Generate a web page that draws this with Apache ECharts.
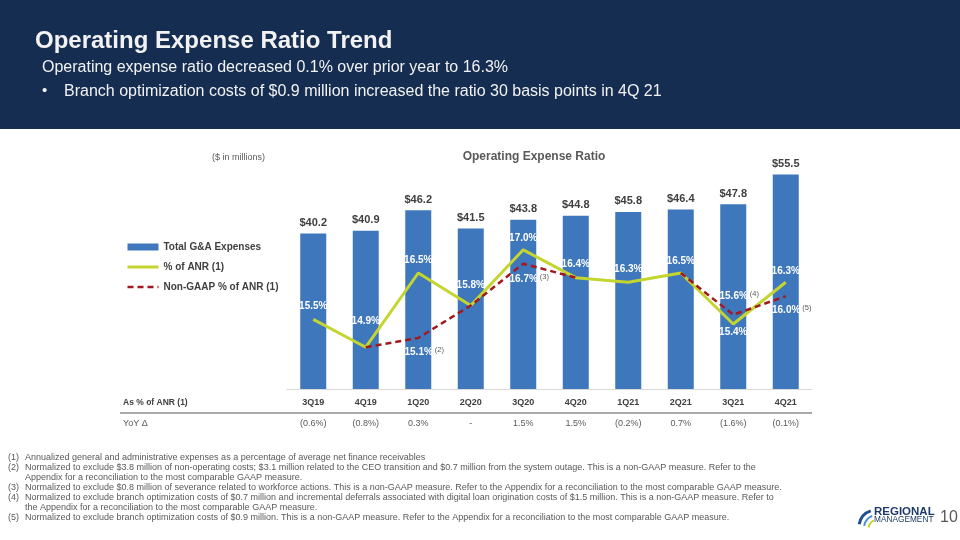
<!DOCTYPE html>
<html><head><meta charset="utf-8">
<script src="https://cdn.jsdelivr.net/npm/echarts@6/dist/echarts.min.js"></script>
<style>html,body{margin:0;padding:0;background:#fff}#c{width:960px;height:540px}</style>
</head><body><div id="c"></div>
<script>
// ---- data ----
const categories = ['3Q19','4Q19','1Q20','2Q20','3Q20','4Q20','1Q21','2Q21','3Q21','4Q21'];
const gaExpenses = [40.2, 40.9, 46.2, 41.5, 43.8, 44.8, 45.8, 46.4, 47.8, 55.5];
const pctOfANR = [15.5, 14.9, 16.5, 15.8, 17.0, 16.4, 16.3, 16.5, 15.4, 16.3];
const nonGaapPct = [null, 14.9, 15.1, 15.8, 16.7, 16.4, null, 16.5, 15.6, 16.0];
const nonGaapNotes = ['', '', '(2)', '', '(3)', '', '', '', '(4)', '(5)'];
const yoyChange = ['(0.6%)','(0.8%)','0.3%','-','1.5%','1.5%','(0.2%)','0.7%','(1.6%)','(0.1%)'];
const seriesNames = ['Total G&A Expenses', '% of ANR (1)', 'Non-GAAP % of ANR (1)'];
const footnotes = [
  ['(1)', 'Annualized general and administrative expenses as a percentage of average net finance receivables'],
  ['(2)', 'Normalized to exclude $3.8 million of non-operating costs; $3.1 million related to the CEO transition and $0.7 million from the system outage. This is a non-GAAP measure. Refer to the'],
  ['', 'Appendix for a reconciliation to the most comparable GAAP measure.'],
  ['(3)', 'Normalized to exclude $0.8 million of severance related to workforce actions. This is a non-GAAP measure. Refer to the Appendix for a reconciliation to the most comparable GAAP measure.'],
  ['(4)', 'Normalized to exclude branch optimization costs of $0.7 million and incremental deferrals associated with digital loan origination costs of $1.5 million. This is a non-GAAP measure. Refer to'],
  ['', 'the Appendix for a reconciliation to the most comparable GAAP measure.'],
  ['(5)', 'Normalized to exclude branch optimization costs of $0.9 million. This is a non-GAAP measure. Refer to the Appendix for a reconciliation to the most comparable GAAP measure.']
];

// ---- styles ----
const FONT = '"Liberation Sans", Arial, sans-serif';
const BAR_COLOR = '#3e77bc';
const LINE_COLOR = '#c4d530';
const DASH_COLOR = '#a3191e';
const gaapLabelPos = ['top','top','top','top','top','top','top','top','bottom','top'];
const gaapLabelDist = [8, 21, 8, 15, 7, 8, 8, 7, 3, 6];
const ngLabelPos = ['top','top','bottom','top','bottom','top','top','top','top','bottom'];
const ngLabelDist = [0, 0, 8, 0, 9, 0, 0, 0, 12, 8];

const valRich = {
  v: {color: '#ffffff', fontSize: 10, fontWeight: 'bold', fontFamily: FONT},
  s: {color: '#595959', fontSize: 7.5, fontFamily: FONT, padding: [0, 0, 5, 2]}
};

const gaapData = pctOfANR.map((v, i) => ({
  value: v,
  label: {position: gaapLabelPos[i], distance: gaapLabelDist[i]}
}));
const ngData = nonGaapPct.map((v, i) => {
  const show = !!nonGaapNotes[i];
  return {
    value: v,
    label: {show: show, position: ngLabelPos[i], distance: ngLabelDist[i], offset: [6, 0]}
  };
});

const graphics = [
  {type: 'rect', shape: {x: 0, y: 0, width: 960, height: 129}, style: {fill: '#162d52'}, silent: true},
  {type: 'text', x: 35, y: 41, style: {text: 'Operating Expense Ratio Trend', fill: '#f2f2f2', fontSize: 24, fontWeight: 'bold', fontFamily: FONT, verticalAlign: 'middle'}},
  {type: 'text', x: 42, y: 68, style: {text: 'Operating expense ratio decreased 0.1% over prior year to 16.3%', fill: '#f2f2f2', fontSize: 16, fontFamily: FONT, verticalAlign: 'middle'}},
  {type: 'text', x: 42, y: 91, style: {text: '•', fill: '#f2f2f2', fontSize: 15, fontFamily: FONT, verticalAlign: 'middle'}},
  {type: 'text', x: 64, y: 92, style: {text: 'Branch optimization costs of $0.9 million increased the ratio 30 basis points in 4Q 21', fill: '#f2f2f2', fontSize: 16, fontFamily: FONT, verticalAlign: 'middle'}},
  {type: 'text', x: 212, y: 158, style: {text: '($ in millions)', fill: '#595959', fontSize: 9, fontFamily: FONT, verticalAlign: 'middle'}},
  {type: 'text', x: 534, y: 157, style: {text: 'Operating Expense Ratio', fill: '#595959', fontSize: 12, fontWeight: 'bold', fontFamily: FONT, align: 'center', verticalAlign: 'middle'}},
  {type: 'text', x: 123, y: 403, style: {text: 'As % of ANR (1)', fill: '#404040', fontSize: 8.5, fontWeight: 'bold', fontFamily: FONT, verticalAlign: 'middle'}},
  {type: 'line', shape: {x1: 120, y1: 413, x2: 812, y2: 413}, style: {stroke: '#8c8c8c', lineWidth: 1.5}},
  {type: 'text', x: 123, y: 424, style: {text: 'YoY Δ', fill: '#595959', fontSize: 9, fontFamily: FONT, verticalAlign: 'middle'}},
  // logo
  {type: 'arc', shape: {cx: 876, cy: 527, r: 17, startAngle: Math.PI * 1.05, endAngle: Math.PI * 1.40}, style: {stroke: '#1d4f91', lineWidth: 3, fill: null}},
  {type: 'arc', shape: {cx: 877, cy: 528, r: 13, startAngle: Math.PI * 1.05, endAngle: Math.PI * 1.38}, style: {stroke: '#4a90d0', lineWidth: 2, fill: null}},
  {type: 'arc', shape: {cx: 878, cy: 529, r: 9.5, startAngle: Math.PI * 1.05, endAngle: Math.PI * 1.36}, style: {stroke: '#c4d530', lineWidth: 2, fill: null}},
  {type: 'text', x: 874, y: 512, style: {text: 'REGIONAL', fill: '#1b3a6b', fontSize: 11.5, fontWeight: 'bold', fontFamily: FONT, verticalAlign: 'middle'}},
  {type: 'text', x: 874, y: 520, style: {text: 'MANAGEMENT', fill: '#1b3a6b', fontSize: 8.3, fontFamily: FONT, verticalAlign: 'middle'}},
  {type: 'text', x: 940, y: 518, style: {text: '10', fill: '#595959', fontSize: 16, fontFamily: FONT, verticalAlign: 'middle'}}
];
footnotes.forEach((f, i) => {
  const y = 457.3 + i * 10;
  if (f[0]) graphics.push({type: 'text', x: 8, y: y, style: {text: f[0], fill: '#595959', fontSize: 9, fontFamily: FONT, verticalAlign: 'middle'}});
  graphics.push({type: 'text', x: 25, y: y, style: {text: f[1], fill: '#595959', fontSize: 9, fontFamily: FONT, verticalAlign: 'middle'}});
});

const chart = echarts.init(document.getElementById('c'), null, {renderer: 'canvas'});
chart.setOption({
  animation: false,
  backgroundColor: '#ffffff',
  textStyle: {fontFamily: FONT},
  grid: {left: 287, right: 148, top: 157, bottom: 151, containLabel: false},
  legend: {
    orient: 'vertical', left: 126, top: 241, padding: 0,
    itemWidth: 31, itemHeight: 7, itemGap: 8,
    textStyle: {fontSize: 10, fontWeight: 'bold', color: '#404040', fontFamily: FONT, lineHeight: 12},
    data: [
      {name: seriesNames[0], icon: 'rect'},
      {name: seriesNames[1], itemStyle: {opacity: 0}, lineStyle: {width: 3}},
      {name: seriesNames[2], itemStyle: {opacity: 0}, lineStyle: {width: 2.5}}
    ]
  },
  xAxis: [
    {type: 'category', data: categories, boundaryGap: true,
     axisLine: {show: true, lineStyle: {color: '#d9d9d9', width: 1}},
     axisTick: {show: false},
     axisLabel: {margin: 9, fontSize: 9, fontWeight: 'bold', color: '#404040', fontFamily: FONT}},
    {type: 'category', data: yoyChange, boundaryGap: true, position: 'bottom', offset: 23,
     axisLine: {show: false}, axisTick: {show: false},
     axisLabel: {margin: 7, fontSize: 9, color: '#595959', fontFamily: FONT}}
  ],
  yAxis: [
    {type: 'value', min: 0, max: 60, show: false, splitLine: {show: false}},
    {type: 'value', min: 14, max: 19, show: false, splitLine: {show: false}}
  ],
  series: [
    {name: seriesNames[0], type: 'bar', data: gaExpenses, barWidth: 26,
     itemStyle: {color: BAR_COLOR},
     label: {show: true, position: 'top', distance: 5, color: '#404040', fontSize: 11, fontWeight: 'bold', fontFamily: FONT,
             formatter: p => '$' + p.value.toFixed(1)}},
    {name: seriesNames[1], type: 'line', yAxisIndex: 1, data: gaapData, z: 3,
     symbol: 'circle', symbolSize: 0, showSymbol: true,
     lineStyle: {color: LINE_COLOR, width: 3}, itemStyle: {color: LINE_COLOR},
     label: {show: true, color: '#ffffff', fontSize: 10, fontWeight: 'bold', fontFamily: FONT,
             formatter: p => p.value.toFixed(1) + '%'}},
    {name: seriesNames[2], type: 'line', yAxisIndex: 1, data: ngData, z: 4,
     symbol: 'circle', symbolSize: 0, showSymbol: true, connectNulls: false,
     lineStyle: {color: DASH_COLOR, width: 2.5, type: [6, 4]}, itemStyle: {color: DASH_COLOR},
     label: {show: true, rich: valRich,
             formatter: p => '{v|' + p.value.toFixed(1) + '%}{s|' + nonGaapNotes[p.dataIndex] + '}'}}
  ],
  graphic: graphics
});
</script></body></html>
